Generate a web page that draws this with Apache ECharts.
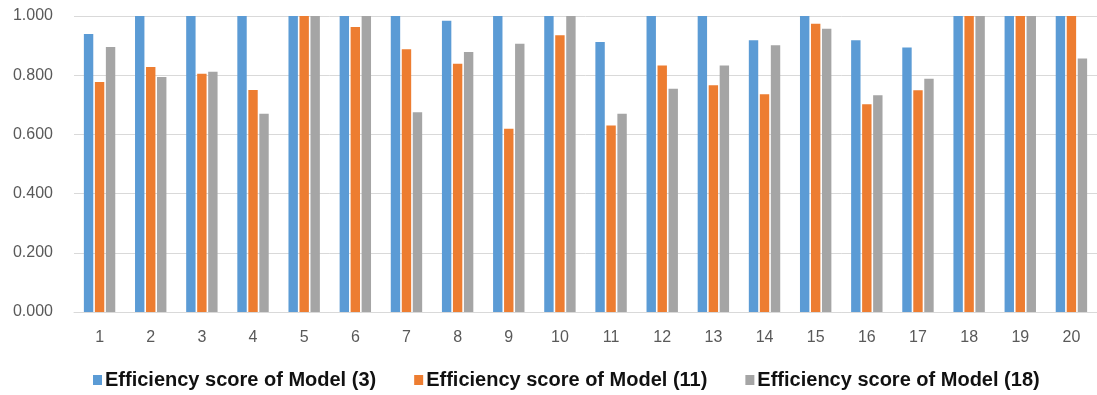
<!DOCTYPE html>
<html>
<head>
<meta charset="utf-8">
<script src="https://cdn.jsdelivr.net/npm/echarts@6/dist/echarts.min.js"></script>
<style>
html,body{margin:0;padding:0;background:#fff;}
#chart{width:1097px;height:395px;}
</style>
</head>
<body>
<div id="chart"></div>
<script>
const categories = ['1','2','3','4','5','6','7','8','9','10','11','12','13','14','15','16','17','18','19','20'];
const seriesNames = ['Efficiency score of Model (3)', 'Efficiency score of Model (11)', 'Efficiency score of Model (18)'];
const model3  = [0.939, 1.000, 1.000, 1.000, 1.000, 1.000, 1.000, 0.984, 1.000, 1.000, 0.912, 1.000, 1.000, 0.918, 1.000, 0.918, 0.894, 1.000, 1.000, 1.000];
const model11 = [0.777, 0.828, 0.805, 0.750, 1.000, 0.963, 0.888, 0.839, 0.619, 0.935, 0.630, 0.833, 0.766, 0.736, 0.974, 0.702, 0.749, 1.000, 1.000, 1.000];
const model18 = [0.895, 0.794, 0.812, 0.670, 1.000, 1.000, 0.675, 0.878, 0.906, 1.000, 0.670, 0.754, 0.833, 0.901, 0.957, 0.732, 0.788, 1.000, 1.000, 0.856];
const colors = ['#5B9BD5', '#ED7D31', '#A5A5A5'];

const chart = echarts.init(document.getElementById('chart'), null, {renderer: 'canvas'});
const dataSets = [model3, model11, model18];
chart.setOption({
  animation: false,
  backgroundColor: '#ffffff',
  color: colors,
  grid: {left: 74, top: 16, width: 1026, height: 296, containLabel: false},
  legend: {
    data: seriesNames,
    left: 88,
    top: 365,
    itemWidth: 9,
    itemHeight: 10,
    itemGap: 38,
    icon: 'rect',
    textStyle: {fontFamily: 'Liberation Sans, Arial, sans-serif', fontSize: 20, fontWeight: 'bold', color: '#111111', padding: [0,0,0,-2]}
  },
  xAxis: {
    type: 'category',
    data: categories,
    axisLine: {show: true, lineStyle: {color: '#D9D9D9', width: 1}},
    axisTick: {show: false},
    axisLabel: {fontFamily: 'Liberation Sans, Arial, sans-serif', fontSize: 16, color: '#595959', margin: 18}
  },
  yAxis: {
    type: 'value',
    min: 0,
    max: 1,
    interval: 0.2,
    axisLine: {show: false},
    axisTick: {show: false},
    splitLine: {lineStyle: {color: '#D9D9D9', width: 1}},
    axisLabel: {fontFamily: 'Liberation Sans, Arial, sans-serif', fontSize: 16, color: '#595959', margin: 21,
      formatter: v => v.toFixed(3)}
  },
  series: seriesNames.map((n, i) => ({
    name: n,
    type: 'bar',
    data: dataSets[i],
    barWidth: 9.4,
    barGap: '17%',
    itemStyle: {color: colors[i]}
  }))
});
</script>
</body>
</html>
